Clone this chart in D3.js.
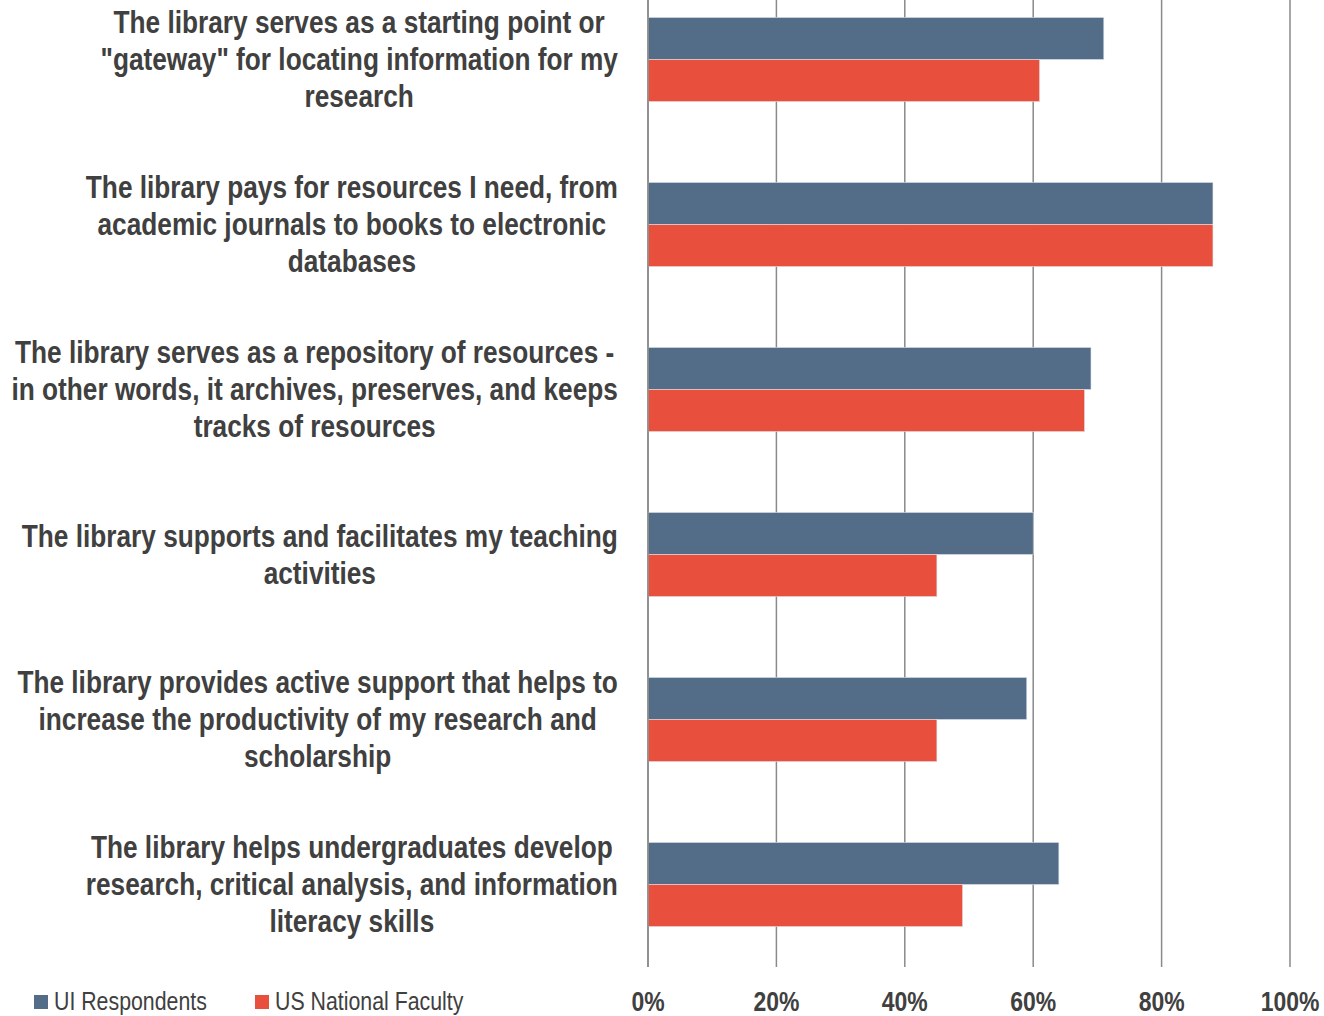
<!DOCTYPE html>
<html>
<head>
<meta charset="utf-8">
<script src="https://cdn.jsdelivr.net/npm/d3@7"></script>
<style>
  body { margin: 0; background: #fff; }
  svg { display: block; }
  text { font-family: "Liberation Sans Narrow", "Arial Narrow", "Liberation Sans", sans-serif; fill: #404040; }
</style>
</head>
<body>
<svg width="1324" height="1016"></svg>
<script>
var categories = [
    ["The library serves as a starting point or", "\"gateway\" for locating information for my", "research"],
    ["The library pays for resources I need, from", "academic journals to books to electronic", "databases"],
    ["The library serves as a repository of resources -", "in other words, it archives, preserves, and keeps", "tracks of resources"],
    ["The library supports and facilitates my teaching", "activities"],
    ["The library provides active support that helps to", "increase the productivity of my research and", "scholarship"],
    ["The library helps undergraduates develop", "research, critical analysis, and information", "literacy skills"]
];
var seriesNames = ["UI Respondents", "US National Faculty"];
var uiValues = [0.71, 0.88, 0.69, 0.60, 0.59, 0.64];
var usValues = [0.61, 0.88, 0.68, 0.45, 0.45, 0.49];
var tickValues = [0, 0.2, 0.4, 0.6, 0.8, 1.0];
var colors = ["#536d89", "#e94f3d"];

// no narrow font installed, so squeeze the regular one horizontally
var squeeze = 0.82;

var svg = d3.select("svg");

var x = d3.scaleLinear().domain([0, 1]).range([648, 1290]);
var y = d3.scaleBand()
    .domain(d3.range(categories.length))
    .range([-23, 967])
    .paddingInner(0.49)
    .paddingOuter(0.245);
var ySub = d3.scaleBand().domain([0, 1]).range([0, y.bandwidth()]);

function place(t, px, py) {
    t.attr("transform", "translate(" + px + "," + py + ") scale(" + squeeze + ",1)");
}

// gridlines
svg.append("g")
    .selectAll("line")
    .data(tickValues)
    .enter().append("line")
    .attr("x1", function (d) { return x(d); })
    .attr("x2", function (d) { return x(d); })
    .attr("y1", 0)
    .attr("y2", 967)
    .attr("stroke", "#8a8a8a")
    .attr("stroke-width", 1.5);

// bars
var groups = svg.append("g")
    .selectAll("g")
    .data(categories)
    .enter().append("g")
    .attr("transform", function (d, i) { return "translate(0," + y(i) + ")"; });

groups.each(function (d, i) {
    var vals = [uiValues[i], usValues[i]];
    d3.select(this).selectAll("rect")
        .data(vals)
        .enter().append("rect")
        .attr("x", x(0))
        .attr("y", function (v, j) { return ySub(j); })
        .attr("width", function (v) { return x(v) - x(0); })
        .attr("height", ySub.bandwidth())
        .attr("fill", function (v, j) { return colors[j]; })
        .attr("stroke", "#dfe3e8")
        .attr("stroke-width", 0.6);
});

// axis line at 0
svg.append("line")
    .attr("x1", x(0)).attr("x2", x(0))
    .attr("y1", 0).attr("y2", 967)
    .attr("stroke", "#8a8a8a")
    .attr("stroke-width", 1.5);

// category labels: block right-aligned, lines centered within block
var lineH = 37;
var labelRight = 618;
categories.forEach(function (lines, i) {
    var cy = y(i) + y.bandwidth() / 2;
    var g = svg.append("g");
    var texts = lines.map(function (line) {
        return g.append("text")
            .attr("dy", "0.35em")
            .attr("text-anchor", "middle")
            .style("font-size", "32px")
            .style("font-weight", "bold")
            .text(line);
    });
    var maxW = d3.max(texts, function (t) { return t.node().getComputedTextLength(); }) * squeeze;
    texts.forEach(function (t, k) {
        place(t, labelRight - maxW / 2, cy - 0.5 + (k - (lines.length - 1) / 2) * lineH);
    });
});

// tick labels
svg.append("g")
    .selectAll("text")
    .data(tickValues)
    .enter().append("text")
    .attr("dy", "0.35em")
    .attr("text-anchor", "middle")
    .style("font-size", "28px")
    .style("font-weight", "bold")
    .text(function (d) { return d3.format(".0%")(d); })
    .each(function (d) { place(d3.select(this), x(d), 1001); });

// legend
var legendX = [34, 255];
seriesNames.forEach(function (name, i) {
    svg.append("rect")
        .attr("x", legendX[i])
        .attr("y", 995)
        .attr("width", 14)
        .attr("height", 14)
        .attr("fill", colors[i]);
    var t = svg.append("text")
        .attr("dy", "0.35em")
        .style("font-size", "26px")
        .text(name);
    place(t, legendX[i] + 20, 1001);
});
</script>
</body>
</html>
